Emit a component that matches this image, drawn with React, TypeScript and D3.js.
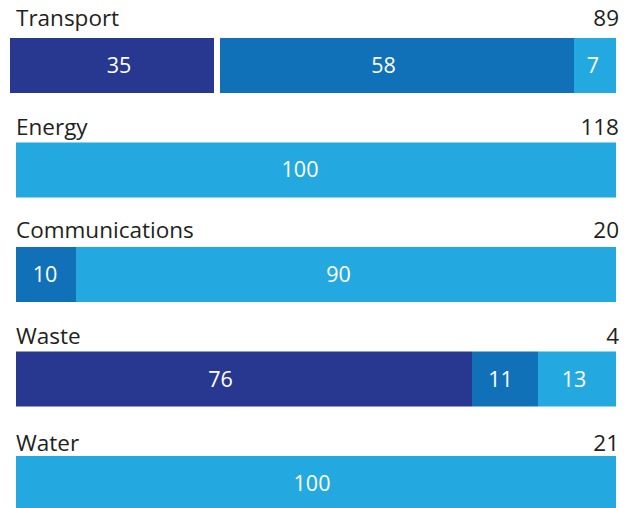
import React from "react";
import * as d3 from "d3";

const categories = ["Transport", "Energy", "Communications", "Waste", "Water"];
const totals = [89, 118, 20, 4, 21];
const seriesNavy = [35, 0, 0, 76, 0];
const seriesMedium = [58, 0, 10, 11, 0];
const seriesLight = [7, 100, 90, 13, 100];

const colors = ["#283890", "#1071b8", "#24a8e0"];
const W = 630;
const H = 508;
const FONT = "'Open Sans', 'Noto Sans', sans-serif";

// layout nudges observed in the reference (style, not data)
const valueNudge = [
  [7, -13.5, -2],
  [0, 0, -16],
  [0, -1, -7.5],
  [-23.5, -4.5, -3],
  [0, 0, -4],
];
const titleGap = [12, 8, 9, 8, 5];

export default function App() {
  const x = d3.scaleLinear().domain([0, 100]).range([16, 616]);
  const y = d3.scaleBand<string>().domain(categories).range([38, 511]).paddingInner(0.4737).paddingOuter(0);
  const bh = y.bandwidth();

  const table = categories.map((c, i) => ({
    cat: c,
    navy: seriesNavy[i],
    medium: seriesMedium[i],
    light: seriesLight[i],
  }));
  const stack = d3.stack<any>().keys(["navy", "medium", "light"])(table);

  return (
    <svg width={W} height={H} style={{ position: "absolute", left: 0, top: 0 }}>
      <rect width={W} height={H} fill="#fff" />
      {categories.map((c, i) => {
        const top = y(c)!;
        const isTransport = i === 0;
        return (
          <g key={c}>
            <text x={16} y={top - titleGap[i]} fontFamily={FONT} fontSize={22.5} fill="#231f20">{c}</text>
            <text x={619} y={top - titleGap[i]} textAnchor="end" fontFamily={FONT} fontSize={22.5} fill="#231f20">{totals[i]}</text>
            {stack.map((s, k) => {
              const d = s[i];
              const v = d[1] - d[0];
              if (v <= 0) return null;
              let x0 = x(d[0]);
              let x1 = x(d[1]);
              if (isTransport && k < 2) {
                x0 -= 6;
                if (k === 0) x1 -= 12;
              }
              return (
                <g key={k}>
                  <rect x={x0} y={top} width={x1 - x0} height={bh} fill={colors[k]} />
                  <text x={(x0 + x1) / 2 + valueNudge[i][k]} y={top + bh / 2 + 7.5} textAnchor="middle" fontFamily={FONT} fontSize={21.5} fill="#fff">{v}</text>
                </g>
              );
            })}
          </g>
        );
      })}
    </svg>
  );
}
